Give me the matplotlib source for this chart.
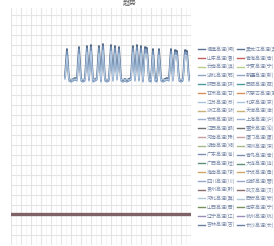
import matplotlib
matplotlib.use("Agg")
import numpy as np
import matplotlib.pyplot as plt

plt.rcParams['font.family'] = ['Noto Sans CJK SC', 'DejaVu Sans']

# time index for the x axis (2 px per step in the reference)
steps = list(range(0, 90))
spike_start = 27

# spiky series (values from step 27 to 89)
spike_a = [168, 196, 166, 165, 166, 167, 166, 198, 166, 165, 166, 199, 166, 200, 165,
           166, 167, 199, 165, 201, 166, 165, 166, 200, 166, 199, 167, 198, 166, 165,
           166, 165, 166, 167, 199, 166, 200, 166, 199, 165, 198, 197, 166, 165, 196,
           166, 165, 196, 166, 165, 166, 167, 166, 196, 166, 195, 194, 166, 165, 166,
           195, 194, 166]
spike_b = [166, 194, 164, 163, 164, 165, 164, 196, 164, 163, 164, 197, 164, 198, 163,
           164, 165, 197, 163, 199, 164, 163, 164, 198, 164, 197, 165, 196, 164, 163,
           164, 163, 164, 165, 197, 164, 198, 164, 197, 163, 196, 195, 164, 163, 194,
           164, 163, 194, 164, 163, 164, 165, 164, 194, 164, 193, 192, 164, 163, 164,
           193, 192, 164]
spike_c = [167, 189, 166, 165, 166, 166, 165, 191, 165, 166, 165, 193, 166, 194, 165,
           166, 166, 192, 165, 195, 166, 165, 166, 194, 165, 192, 166, 192, 165, 166,
           165, 166, 165, 166, 193, 165, 194, 166, 192, 165, 191, 191, 166, 165, 190,
           165, 166, 190, 165, 166, 165, 166, 165, 191, 165, 190, 189, 165, 166, 165,
           190, 189, 165]
flat_level = 31

names = ["福建高速(闽)", "山东高速(鲁)", "云南高速(滇)", "湖北高速(鄂)", "陕西高速(陕)",
         "甘肃高速(甘)", "江苏高速(苏)", "浙江高速(浙)", "安徽高速(皖)", "江西高速(赣)",
         "河南高速(豫)", "湖南高速(湘)", "广东高速(粤)", "广西高速(桂)", "海南高速(琼)",
         "四川高速(川)", "贵州高速(黔)", "河北高速(冀)", "山西高速(晋)", "辽宁高速(辽)",
         "吉林高速(吉)", "黑龙江高速(黑)", "青海高速(青)", "宁夏高速(宁)", "新疆高速(新)",
         "西藏高速(藏)", "内蒙古高速(蒙)", "北京高速(京)", "天津高速(津)", "上海高速(沪)",
         "重庆高速(渝)", "厦门高速(厦)", "深圳高速(深)", "青岛高速(青)", "大连高速(连)",
         "宁波高速(甬)", "成都高速(蓉)", "武汉高速(汉)", "西安高速(安)", "南京高速(宁)",
         "杭州高速(杭)", "长沙高速(长)"]

palette = ["#5b7393", "#c2605c", "#b7cf8a", "#8fa3c4", "#4e9a9a", "#d9925a",
           "#a9c4e0", "#c9b27a", "#9bb0cc", "#6f6f6f", "#c7a0a0", "#a4b98a",
           "#7c8fb0", "#5f8f7a", "#d4a56a", "#98a8c8", "#8a6f6f", "#b0c8d8",
           "#789060", "#9c8cb8", "#6a7fa0"]

fig = plt.figure(figsize=(2.74, 2.46), dpi=100)
ax = fig.add_axes([0.04, 0.005, 0.657, 0.962])

xs = steps[spike_start:]
for i, name in enumerate(names):
    if i == 1:
        ax.plot(xs, spike_a, color="#4f6482", lw=1.3, label=name, zorder=4)
    elif i == 2:
        ax.plot(xs, spike_b, color="#7d9cc4", lw=0.9, label=name, zorder=5)
    elif i == 3:
        ax.plot(xs, spike_c, color="#b8cfe6", lw=0.7, label=name, zorder=6)
    else:
        ax.plot(steps, [flat_level] * len(steps), color=palette[i % len(palette)],
                lw=0.6, alpha=0.1, label=name)
# the overlapping flat series read as one thick brownish line
ax.plot(steps, [flat_level] * len(steps), color="#7e6266", lw=2.4, zorder=3)

ax.set_xlim(0, 90)
ax.set_ylim(0, 237)
ax.set_xticks(np.arange(0, 91, 5))
ax.set_yticks(np.arange(0, 238, 10))
ax.set_xticks(np.arange(0, 91, 2.5), minor=True)
ax.grid(True, which="major", color="#e4e4e4", lw=0.8)
ax.grid(True, which="minor", axis="x", color="#f0f0f0", lw=0.5)
ax.tick_params(which="both", length=0, labelbottom=False, labelleft=False)
for s in ax.spines.values():
    s.set_visible(False)

handles, labels = ax.get_legend_handles_labels()
leg = fig.legend(handles, labels, loc="upper left", bbox_to_anchor=(0.715, 0.82),
                 ncol=2, fontsize=3.6, frameon=False, handlelength=1.4,
                 handletextpad=0.3, columnspacing=0.4, labelspacing=0.62,
                 borderaxespad=0)
for i, line in enumerate(leg.get_lines()):
    line.set_color(palette[i % len(palette)])
    line.set_alpha(1)
    line.set_linewidth(1.0)
for t in leg.get_texts():
    t.set_color("#7a8aa8")

fig.text(0.475, 0.99, "趋势", ha="center", va="center", fontsize=5, color="#555555")

fig.savefig("out.png", dpi=100)
